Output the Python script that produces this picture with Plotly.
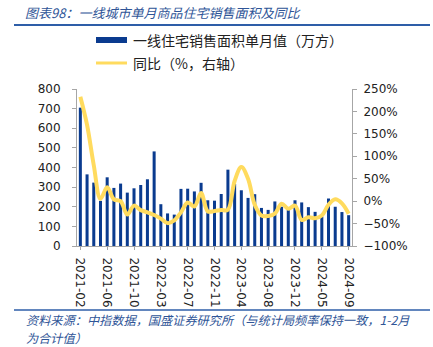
import plotly.graph_objects as go

# ---------------- data ----------------
months = []
for y, ms in [(2021, range(2, 13)), (2022, range(2, 13)), (2023, range(2, 13)), (2024, range(2, 10))]:
    for m in ms:
        months.append(f"{y}-{m:02d}")

area = [705, 365, 323, 230, 350, 296, 318, 272, 294, 311,
        340, 482, 213, 166, 160, 291, 292, 278, 322, 233,
        231, 265, 389, 317, 284, 245, 264, 194, 184, 227,
        200, 183, 233, 222, 198, 174, 150, 242, 200, 173, 157]

yoy = [233, 170, 80, 5, 31, 4, 0, -30, -10, -20,
       -25, -31, -39, -49, -43, -25, -3, -12, 18, -23,
       -22, -20, -19, 45, 76, 50, -8, -32, -33, -28,
       -6, -17, -10, -42, -36, -38, -32, -8, 4, -5, -28]

tick_labels = months[::4]

title_text = "图表98：一线城市单月商品住宅销售面积及同比"
bar_name = "一线住宅销售面积单月值（万方）"
line_name = "同比（%，右轴）"
source_1 = "资料来源：中指数据，国盛证券研究所（与统计局频率保持一致，1-2月"
source_2 = "为合计值）"

# ---------------- layout geometry ----------------
W, H = 433, 347
L, R, T, B = 77, 352, 89, 246

def px(x):
    return (x - L) / (R - L)

def py(y):
    return (B - y) / (B - T)

BLUE = "#0a3b8f"
YELLOW = "#FFDB5E"
TXT_BLUE = "#2f5597"
CJK = "Noto Sans CJK SC"
TICKF = dict(family="DejaVu Sans", size=12, color="#222222")

fig = go.Figure()
fig.add_trace(go.Bar(x=months, y=area, marker_color=BLUE, marker_line_width=0,
                     name=bar_name, yaxis="y"))
fig.add_trace(go.Scatter(x=months, y=yoy, mode="lines", name=line_name,
                         line=dict(color=YELLOW, width=4, shape="spline", smoothing=1),
                         yaxis="y2"))

fig.update_layout(
    width=W, height=H,
    margin=dict(l=L, r=W - R, t=T, b=H - B, pad=0),
    paper_bgcolor="white", plot_bgcolor="white",
    showlegend=False,
    bargap=0.55,
    xaxis=dict(type="category", tickmode="array", tickvals=tick_labels, ticktext=tick_labels,
               tickangle=90, tickfont=TICKF, showline=True, linecolor="#a6a6a6", linewidth=1,
               ticks="outside", ticklen=3, tickcolor="#a6a6a6", showgrid=False,
               range=[-0.5, len(months) - 0.5], ticklabelstandoff=5),
    yaxis=dict(range=[0, 800], dtick=100, tickfont=TICKF, showline=True, linecolor="#a6a6a6",
               ticks="outside", ticklen=4, tickcolor="#a6a6a6", showgrid=False, zeroline=False,
               ticklabelstandoff=9),
    yaxis2=dict(range=[-100, 250], dtick=50, ticksuffix="%", overlaying="y", side="right",
                tickfont=TICKF, showline=True, linecolor="#a6a6a6", ticks="outside", ticklen=4,
                tickcolor="#a6a6a6", showgrid=False, zeroline=False, ticklabelstandoff=4),
)

shapes = [
    # title underline
    dict(type="line", xref="paper", yref="paper", x0=px(14), x1=px(430), y0=py(25), y1=py(25),
         line=dict(color="#2e5ea8", width=2)),
    # footer line
    dict(type="line", xref="paper", yref="paper", x0=px(14), x1=px(430), y0=py(310), y1=py(310),
         line=dict(color="#2e5ea8", width=1.5)),
    # legend symbols
    dict(type="rect", xref="paper", yref="paper", x0=px(96), x1=px(127), y0=py(43), y1=py(37),
         fillcolor=BLUE, line=dict(width=0)),
    dict(type="line", xref="paper", yref="paper", x0=px(96), x1=px(127), y0=py(63), y1=py(63),
         line=dict(color=YELLOW, width=3)),
]
fig.update_layout(shapes=shapes)

ann = [
    dict(text=f"<i>{title_text}</i>", x=px(23), y=py(12), xanchor="left", yanchor="middle",
         font=dict(family=CJK, size=13, color=TXT_BLUE)),
    dict(text=bar_name, x=px(131), y=py(40), xanchor="left", yanchor="middle",
         font=dict(family=CJK, size=14, color="#222222")),
    dict(text=line_name, x=px(131), y=py(63), xanchor="left", yanchor="middle",
         font=dict(family=CJK, size=14, color="#222222")),
    dict(text=f"<i>{source_1}</i>", x=px(24), y=py(320), xanchor="left", yanchor="middle",
         font=dict(family=CJK, size=12.2, color=TXT_BLUE)),
    dict(text=f"<i>{source_2}</i>", x=px(24), y=py(338), xanchor="left", yanchor="middle",
         font=dict(family=CJK, size=12.2, color=TXT_BLUE)),
]
for a in ann:
    a.update(xref="paper", yref="paper", showarrow=False)
fig.update_layout(annotations=ann)

fig.write_html("out.html")
